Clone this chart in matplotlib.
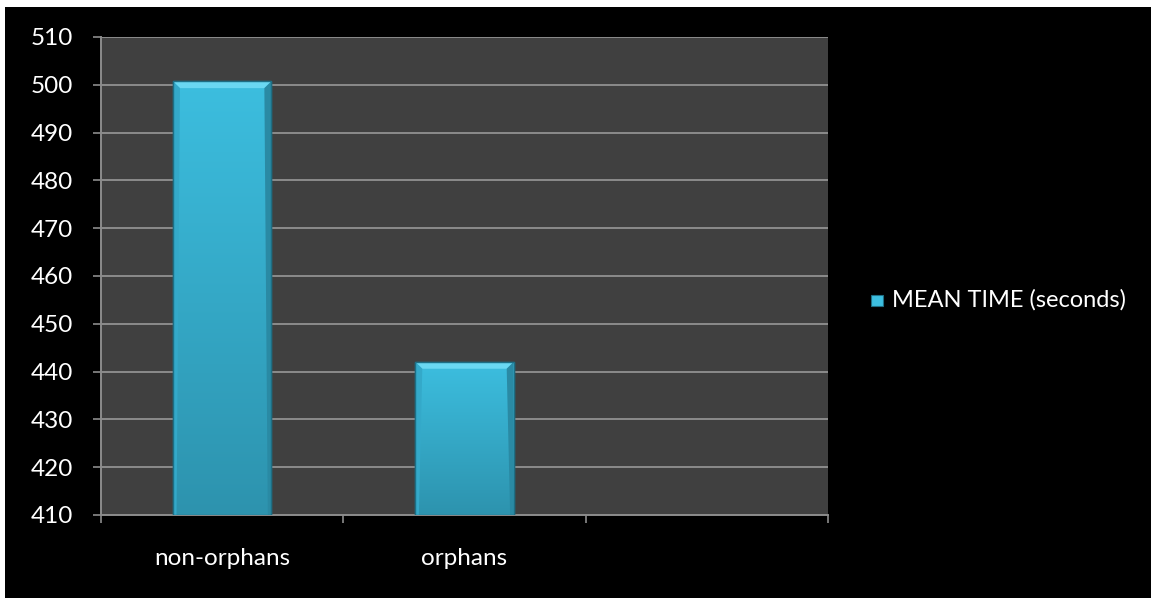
import numpy as np
import matplotlib.pyplot as plt
from matplotlib.patches import Rectangle, Polygon
from matplotlib.colors import LinearSegmentedColormap

categories = ['non-orphans', 'orphans', '']
mean_time = [500.7, 442.0, np.nan]
series_name = 'MEAN TIME (seconds)'

plt.rcParams['font.family'] = ['Lato', 'DejaVu Sans']

W, H = 1151, 598
fig = plt.figure(figsize=(W / 100, H / 100), dpi=100, facecolor='white')
# black slide background, leaving a thin white strip at top and left
fig.patches.append(Rectangle((5 / W, 0), 1, 1 - 7 / H, transform=fig.transFigure,
                             facecolor='black', edgecolor='none', zorder=-10))

ax = fig.add_axes([101 / W, 1 - 515 / H, (828 - 101) / W, (515 - 37) / H])
ax.set_facecolor('#404040')

x = np.arange(len(categories)) + 0.5
width = 0.405
bars = ax.bar(x, mean_time, width=width, bottom=0, color='#37b3d3',
              edgecolor='#1e6e84', linewidth=1.0, zorder=3)

ax.set_xlim(0, 3)
ax.set_ylim(410, 510)
ax.set_yticks(np.arange(410, 511, 10))
ax.set_xticks([0, 1, 2, 3])
ax.set_xticklabels([])
ax.set_xticks(x, minor=True)
ax.set_xticklabels(categories, minor=True)
ax.tick_params(axis='x', which='minor', length=0, pad=24, labelsize=17.5, labelcolor='white')
ax.tick_params(axis='x', which='major', length=6, width=1.2, color='#8c8c8c', direction='out')
ax.tick_params(axis='y', length=6, width=1.2, color='#8c8c8c', labelsize=17.5,
               labelcolor='white', pad=14)
ax.grid(axis='y', color='#8c8c8c', linewidth=1.4, zorder=1)
for side in ['top', 'right']:
    ax.spines[side].set_visible(False)
for side in ['left', 'bottom']:
    ax.spines[side].set_color('#8c8c8c')
    ax.spines[side].set_linewidth(1.4)

# gradient shading and bevelled top edge on each bar
grad = np.linspace(0, 1, 256).reshape(-1, 1)
cmap = LinearSegmentedColormap.from_list('bar', ['#2d93ae', '#3cbedf'])
for b, v in zip(bars, mean_time):
    if np.isnan(v):
        continue
    x0, w = b.get_x(), b.get_width()
    y0, y1 = 410, v
    im = ax.imshow(grad, extent=(x0, x0 + w, y0, y1), aspect='auto',
                   cmap=cmap, origin='lower', zorder=3.5)
    im.set_clip_path(b)
    dx = w * 0.07
    dy = 1.4
    ax.add_patch(Polygon([(x0, y1), (x0 + w, y1), (x0 + w - dx, y1 - dy), (x0 + dx, y1 - dy)],
                         closed=True, facecolor='#6ad8f2', edgecolor='none', zorder=4))
    ax.add_patch(Polygon([(x0 + w, y1), (x0 + w, y0), (x0 + w - dx * 0.5, y0), (x0 + w - dx, y1 - dy)],
                         closed=True, facecolor='#2a8aa4', edgecolor='none', zorder=4))
    ax.add_patch(Polygon([(x0, y1), (x0, y0), (x0 + dx * 0.5, y0), (x0 + dx, y1 - dy)],
                         closed=True, facecolor='#34a9c9', edgecolor='none', zorder=4))
    ax.add_patch(Rectangle((x0, y0), w, y1 - y0, facecolor='none', edgecolor='#1e6e84',
                           linewidth=1.0, zorder=5))

# legend
fig.patches.append(Rectangle((871 / W, 1 - 306 / H), 12 / W, 11 / H, transform=fig.transFigure,
                             facecolor='#3dbfe0', edgecolor='#1e6e84', linewidth=0.8))
fig.text(892 / W, 1 - 300 / H, series_name, color='white', fontsize=17, va='center', ha='left')

fig.savefig('out.png', dpi=100, facecolor=fig.get_facecolor())
